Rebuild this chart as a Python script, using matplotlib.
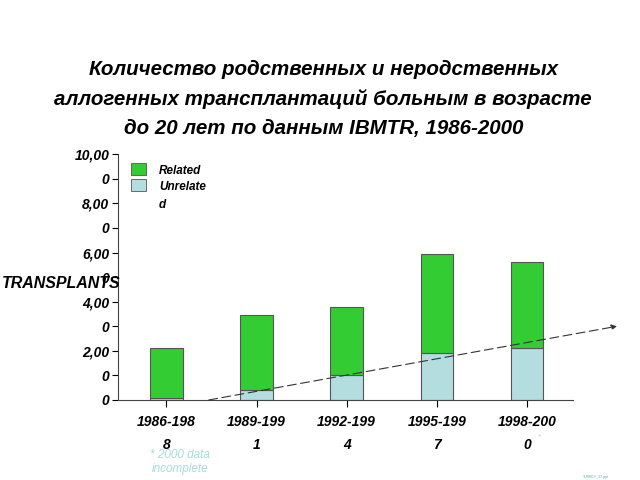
import matplotlib
matplotlib.use("Agg")
import matplotlib.pyplot as plt

categories = ["1986-198\n8", "1989-199\n1", "1992-199\n4", "1995-199\n7", "1998-200\n0"]
totals = [2100, 3450, 3800, 5950, 5600]
unrelated = [80, 400, 1000, 1900, 2100]
related = [t - u for t, u in zip(totals, unrelated)]
ytick_vals = [0, 1000, 2000, 3000, 4000, 5000, 6000, 7000, 8000, 9000, 10000]
ytick_labels = ["0", "0", "2,00", "0", "4,00", "0", "6,00", "0", "8,00", "0", "10,00"]
trend_start = (0.47, 0)
trend_end = (5.0, 3000)

plt.rcParams['font.family'] = ['Liberation Sans', 'DejaVu Sans']

fig = plt.figure(figsize=(6.4, 4.8), dpi=100)
ax = fig.add_axes([0.184, 0.1667, 0.711, 0.512])

green = "#33CC33"
lblue = "#B4DDE0"
edge = "#555555"
x = list(range(len(categories)))
ax.bar(x, unrelated, width=0.36, color=lblue, edgecolor=edge, linewidth=0.8)
ax.bar(x, related, width=0.36, bottom=unrelated, color=green, edgecolor=edge, linewidth=0.8)

ax.set_xlim(-0.54, 4.51)
ax.set_ylim(0, 10000)
ax.set_yticks(ytick_vals)
ax.set_yticklabels(ytick_labels, fontsize=10, fontweight='bold', fontstyle='italic')
ax.set_xticks(x)
ax.set_xticklabels(categories, fontsize=10, fontweight='bold', fontstyle='italic', linespacing=1.8)
ax.tick_params(axis='y', length=4, width=0.8, pad=2)
ax.tick_params(axis='x', length=5, width=0.8, pad=6)
for s in ['top', 'right']:
    ax.spines[s].set_visible(False)
for s in ['left', 'bottom']:
    ax.spines[s].set_color('#444444')
    ax.spines[s].set_linewidth(0.8)

ax.annotate("", xy=trend_end, xytext=trend_start,
            arrowprops=dict(arrowstyle='-|>', linestyle=(0, (8, 4)), color='#333333',
                            lw=0.8, mutation_scale=8, shrinkA=0, shrinkB=0),
            annotation_clip=False)

# legend
fig.patches.append(plt.Rectangle((131/640, 1-175/480), 15/640, 12/480, transform=fig.transFigure,
                                 facecolor=green, edgecolor=edge, lw=0.6))
fig.patches.append(plt.Rectangle((131/640, 1-191/480), 15/640, 12/480, transform=fig.transFigure,
                                 facecolor=lblue, edgecolor=edge, lw=0.6))
fig.text(159/640, 1-171/480, "Related", fontsize=8.5, fontweight='bold', fontstyle='italic', va='center')
fig.text(159/640, 1-187/480, "Unrelate", fontsize=8.5, fontweight='bold', fontstyle='italic', va='center')
fig.text(159/640, 1-205/480, "d", fontsize=8.5, fontweight='bold', fontstyle='italic', va='center')

title = ("Количество родственных и неродственных\n"
         "аллогенных трансплантаций больным в возрасте\n"
         "до 20 лет по данным IBMTR, 1986-2000")
fig.text(0.505, 1-99/480, title, ha='center', va='center', fontsize=14.8,
         fontweight='bold', fontstyle='italic', linespacing=1.65)

fig.text(2/640, 1-284/480, "TRANSPLANTS", fontsize=11.5, fontweight='bold', fontstyle='italic', va='center')

fig.text(180/640, 1-462/480, "* 2000 data\nincomplete", ha='center', va='center', fontsize=8.5,
         fontstyle='italic', color='#A8DCDC', linespacing=1.3)
fig.text(538/640, 1-437/480, "*", fontsize=6, color='#cccccc', va='center')
fig.text(583/640, 1-477/480, "TURKEY_37.ppt", fontsize=2.5, color='#66aaaa', va='center')

fig.savefig("out.png", dpi=100)
